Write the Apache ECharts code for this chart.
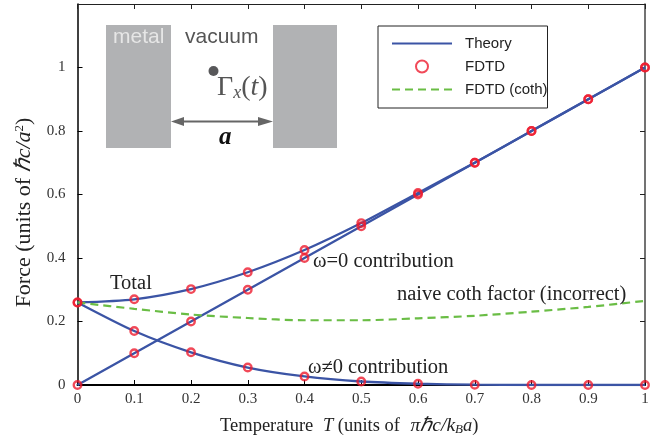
<!DOCTYPE html>
<html><head><meta charset="utf-8">
<style>html,body{margin:0;padding:0;background:#fff}#c{width:656px;height:440px}</style>
<script src="https://cdn.jsdelivr.net/npm/echarts@6/dist/echarts.min.js"></script>
</head><body><div id="c"></div>
<script>
const temperature = [0,0.1,0.2,0.3,0.4,0.5,0.6,0.7,0.8,0.9,1];
const total = [0.26,0.27,0.302,0.355,0.425,0.51,0.605,0.7,0.8,0.9,1];
const zeroMode = [0,0.1,0.2,0.3,0.4,0.5,0.6,0.7,0.8,0.9,1];
const nonZeroMode = [0.26,0.17,0.103,0.055,0.027,0.011,0.004,0.001,0,0,0];
const cothFactor = [0.26,0.24,0.222,0.211,0.204,0.204,0.21,0.218,0.231,0.246,0.265];
const pair = ys => temperature.map((t,i)=>[t,ys[i]]);
const serif = '"Liberation Serif","Times New Roman",serif';
const sans = '"Liberation Sans",Arial,sans-serif';
const blue = '#3b54a5', red = '#ee1c2e', green = '#6abd45';
const theory = (ys,smooth) => ({name:'Theory',type:'line',data:pair(ys),smooth:smooth,showSymbol:false,symbol:'none',
  lineStyle:{color:blue,width:2.3},itemStyle:{color:blue},z:3});
const txt = (x,y,text) => ({type:'text',left:x,top:y,z:10,style:{text:text,font:`20.5px ${serif}`,fill:'#222'}});
const noDot = {color:'rgba(0,0,0,0)',borderWidth:0};
const chart = echarts.init(document.getElementById('c'),null,{renderer:'canvas'});
chart.setOption({
  animation:false,
  backgroundColor:'#fff',
  grid:{left:77.5,right:11,top:4,height:381,containLabel:false,outerBoundsMode:'none'},
  legend:{
    left:378,top:26,orient:'vertical',
    data:[{name:'Theory',itemStyle:noDot},{name:'FDTD'},{name:'FDTD (coth)',itemStyle:noDot}],
    itemWidth:60,itemHeight:12,itemGap:8,
    padding:[10,0,11,13],
    borderColor:'#222',borderWidth:1,backgroundColor:'#fff',
    textStyle:{fontFamily:sans,fontSize:15,color:'#222',padding:[0,0,0,8]},
    selectedMode:false,z:8
  },
  xAxis:[{
    type:'value',min:0,max:1,interval:0.1,
    axisLine:{show:true,onZero:false,lineStyle:{color:'#000',width:2}},
    axisTick:{inside:true,length:5,lineStyle:{color:'#000',width:1}},
    axisLabel:{fontFamily:serif,fontSize:15,color:'#333',margin:7,formatter:v=>String(+v.toFixed(1))},
    splitLine:{show:false},
    nameLocation:'middle',nameGap:31,
    name:'{r|Temperature }{t|T}{r| (units of }{p|πℏc/k}{s|B}{i|a}{r|)}',
    nameTextStyle:{padding:[0,24,0,0],rich:{
      r:{fontFamily:serif,fontSize:18.5,color:'#222'},
      i:{fontFamily:serif,fontSize:18.5,fontStyle:'italic',color:'#222'},
      t:{fontFamily:serif,fontSize:18.5,fontStyle:'italic',color:'#222',padding:[0,0,0,5]},
      p:{fontFamily:serif,fontSize:19.5,fontStyle:'italic',color:'#222',padding:[0,0,0,6]},
      s:{fontFamily:serif,fontSize:13,fontStyle:'italic',color:'#222',verticalAlign:'bottom',padding:[6,0,0,0]}
    }}
  },{
    type:'value',position:'top',min:0,max:1,interval:0.1,
    axisLine:{show:true,onZero:false,lineStyle:{color:'#222',width:1}},
    axisTick:{inside:true,length:5,lineStyle:{color:'#222',width:1}},
    axisLabel:{show:false},splitLine:{show:false}
  }],
  yAxis:[{
    type:'value',min:0,max:1.2,interval:0.2,
    axisLine:{show:true,onZero:false,lineStyle:{color:'#000',width:1.5}},
    axisTick:{inside:true,length:5,lineStyle:{color:'#000',width:1}},
    axisLabel:{fontFamily:serif,fontSize:15,color:'#333',margin:12,showMaxLabel:false,formatter:v=>String(+v.toFixed(1))},
    splitLine:{show:false},
    nameLocation:'middle',nameGap:42,
    name:'{r|Force (units of }{i|ℏc/a}{s|2}{r|)}',
    nameTextStyle:{padding:[0,36,0,0],rich:{
      r:{fontFamily:serif,fontSize:22,color:'#222'},
      i:{fontFamily:serif,fontSize:22,fontStyle:'italic',color:'#222'},
      s:{fontFamily:serif,fontSize:13,color:'#222',verticalAlign:'top',padding:[0,0,6,0]}
    }}
  },{
    type:'value',position:'right',min:0,max:1.2,interval:0.2,
    axisLine:{show:true,onZero:false,lineStyle:{color:'#444',width:1.5}},
    axisTick:{inside:true,length:5,lineStyle:{color:'#222',width:1}},
    axisLabel:{show:false},splitLine:{show:false}
  }],
  series:[
    theory(total,0.25),
    theory(zeroMode,false),
    theory(nonZeroMode,0.25),
    {name:'FDTD (coth)',type:'line',data:pair(cothFactor),smooth:0.3,showSymbol:false,symbol:'none',
      lineStyle:{color:green,width:2.2,type:[8,5]},itemStyle:{color:green},z:4},
    ...[total,zeroMode,nonZeroMode].map(ys=>({name:'FDTD',type:'scatter',data:pair(ys),symbol:'circle',symbolSize:7.5,
      itemStyle:{color:'rgba(255,255,255,0)',borderColor:red,borderWidth:2.4},z:5}))
  ],
  graphic:[
    {type:'rect',shape:{x:106,y:25,width:65,height:123},style:{fill:'#b1b2b4'},z:1},
    {type:'rect',shape:{x:273,y:25,width:64,height:123},style:{fill:'#b1b2b4'},z:1},
    {type:'text',left:113,top:27,z:2,style:{text:'metal',font:`21px ${sans}`,fill:'#e6e6e6'}},
    {type:'text',left:185,top:27,z:2,style:{text:'vacuum',font:`21px ${sans}`,fill:'#555'}},
    {type:'circle',shape:{cx:213.5,cy:71,r:5},style:{fill:'#58585a'},z:2},
    {type:'text',left:217,top:74,z:2,style:{text:'{g|Γ}{x|x}{g|(}{t|t}{g|)}',rich:{
      g:{font:`28px ${serif}`,fill:'#555'},
      t:{font:`italic 28px ${serif}`,fill:'#555'},
      x:{font:`italic 18px ${serif}`,fill:'#555',verticalAlign:'bottom'}}}},
    {type:'line',shape:{x1:176,y1:121.5,x2:268,y2:121.5},style:{stroke:'#666',lineWidth:2},z:2},
    {type:'polygon',shape:{points:[[171,121.5],[184,117],[184,126]]},style:{fill:'#666'},z:2},
    {type:'polygon',shape:{points:[[273,121.5],[258,117],[258,126]]},style:{fill:'#666'},z:2},
    {type:'text',left:219,top:125,z:2,style:{text:'a',font:`italic bold 25px ${serif}`,fill:'#111'}},
    txt(110,273,'Total'),
    txt(313,251,'ω=0 contribution'),
    txt(308,357,'ω≠0 contribution'),
    txt(397,284,'naive coth factor (incorrect)')
  ]
});
</script></body></html>
